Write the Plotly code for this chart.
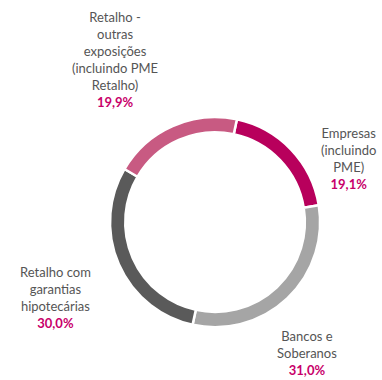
import plotly.graph_objects as go

# Exposure breakdown by segment
categories = ["Empresas<br>(incluindo<br>PME)", "Bancos e<br>Soberanos",
              "Retalho com<br>garantias<br>hipotecárias",
              "Retalho -<br>outras<br>exposições<br>(incluindo PME<br>Retalho)"]
shares = [19.1, 31.0, 30.0, 19.9]
share_labels = ["19,1%", "31,0%", "30,0%", "19,9%"]
colors = ["#b8005c", "#a5a5a5", "#5a5a5a", "#c85a82"]

# label anchor positions (paper coords)
label_x = [0.912, 0.804, 0.146, 0.302]
label_y = [0.49, 0.0, 0.125, 0.706]

fig = go.Figure(go.Pie(
    values=shares,
    labels=[c.replace("<br>", " ") for c in categories],
    sort=False,
    direction="clockwise",
    rotation=12,
    hole=0.855,
    marker=dict(colors=colors, line=dict(color="white", width=2.5)),
    textinfo="none",
    hoverinfo="none",
    showlegend=False,
    domain=dict(x=[0.288, 0.838], y=[0.139, 0.692]),
))

for cat, lab, x, y in zip(categories, share_labels, label_x, label_y):
    fig.add_annotation(
        x=x, y=y, xref="paper", yref="paper",
        xanchor="center", yanchor="bottom",
        text=f"{cat}<br><b><span style='color:#c8006a'>{lab}</span></b>",
        showarrow=False, align="center",
        font=dict(family="Lato, Open Sans, sans-serif", size=13, color="#555555"),
    )

fig.update_layout(
    width=382, height=380,
    margin=dict(l=0, r=0, t=0, b=0),
    paper_bgcolor="white", plot_bgcolor="white",
)

fig.write_html("out.html")
